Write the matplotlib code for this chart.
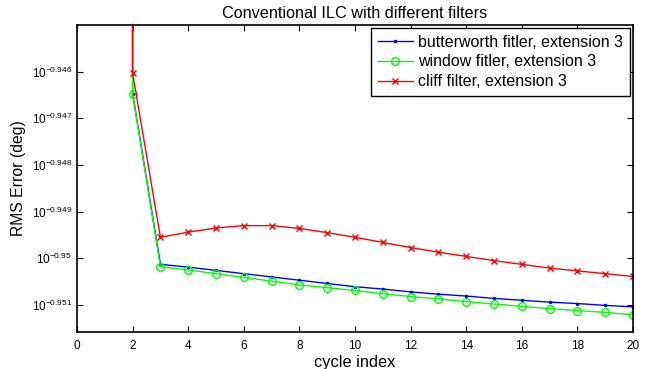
import numpy as np
import matplotlib
matplotlib.use("Agg")
import matplotlib.pyplot as plt
from matplotlib.ticker import FixedLocator, NullLocator, FixedFormatter

plt.rcParams['font.family'] = ['Liberation Sans', 'DejaVu Sans']
plt.rcParams['mathtext.fontset'] = 'custom'
plt.rcParams['mathtext.rm'] = 'Liberation Sans'
plt.rcParams['mathtext.it'] = 'Liberation Sans'

# cycle index
cycles = list(range(1, 21))

# log10 of RMS error (deg)
butter_log = [-0.5, -0.94647, -0.95013, -0.95019, -0.95026, -0.95033, -0.95040, -0.95047,
              -0.95054, -0.95061, -0.95066, -0.95072, -0.95077, -0.95081, -0.95086,
              -0.95090, -0.95094, -0.95097, -0.95101, -0.95104]
window_log = [-0.5, -0.94647, -0.95018, -0.95025, -0.95033, -0.95041, -0.95049, -0.95057,
              -0.95063, -0.95069, -0.95076, -0.95082, -0.95087, -0.95093, -0.95098,
              -0.95103, -0.95108, -0.95112, -0.95116, -0.95121]
cliff_log = [-0.5, -0.94603, -0.94955, -0.94944, -0.94935, -0.94930, -0.94930, -0.94936,
             -0.94945, -0.94955, -0.94966, -0.94977, -0.94987, -0.94996, -0.95005,
             -0.95013, -0.95021, -0.95027, -0.95033, -0.95039]

ytick_exp = [-0.951, -0.95, -0.949, -0.948, -0.947, -0.946]
ytick_labels = [r'$10^{-0.951}$', r'$10^{-0.95}$', r'$10^{-0.949}$',
                r'$10^{-0.948}$', r'$10^{-0.947}$', r'$10^{-0.946}$']

butter = 10 ** np.array(butter_log)
window = 10 ** np.array(window_log)
cliff = 10 ** np.array(cliff_log)

fig = plt.figure(figsize=(6.55, 3.69), dpi=100)
ax = fig.add_axes([0.1176, 0.1003, 0.8488, 0.8319])

ax.plot(cycles, butter, color='blue', marker='.', markersize=3, linewidth=1,
        label='butterworth fitler, extension 3')
ax.plot(cycles, window, color='#00ff00', marker='o', markersize=5.5, markerfacecolor='none',
        linewidth=1, label='window fitler, extension 3')
ax.plot(cycles, cliff, color='red', marker='x', markersize=4, linewidth=1,
        label='cliff filter, extension 3')

ax.set_yscale('log')
ax.set_xlim(0, 20)
ax.set_ylim(10 ** -0.95158, 10 ** -0.945)
ax.set_xticks(range(0, 21, 2))
ax.yaxis.set_major_locator(FixedLocator(10 ** np.array(ytick_exp)))
ax.yaxis.set_major_formatter(FixedFormatter(ytick_labels))
ax.yaxis.set_minor_locator(NullLocator())

ax.tick_params(direction='in', top=True, right=True, labelsize=8.5, length=4)
ax.tick_params(axis='x', pad=6)
for s in ax.spines.values():
    s.set_linewidth(1.2)

ax.set_title('Conventional ILC with different filters', fontsize=11.7, pad=5)
ax.set_xlabel('cycle index', fontsize=11.8, labelpad=2)
ax.set_ylabel('RMS Error (deg)', fontsize=11.3)

leg = ax.legend(loc='upper right', fontsize=11.5, fancybox=False, framealpha=1,
                edgecolor='black', borderaxespad=0.2, handlelength=2.2,
                handletextpad=0.35, labelspacing=0.3, borderpad=0.4)
leg.get_frame().set_linewidth(1.0)

fig.savefig('out.png', dpi=100)
